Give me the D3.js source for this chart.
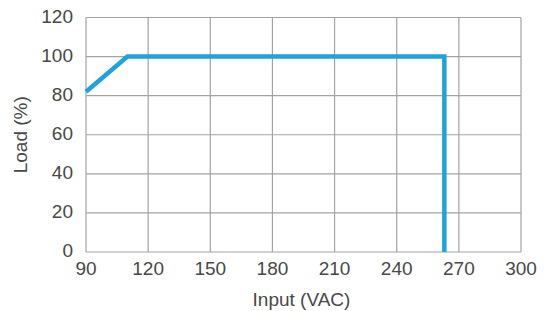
<!DOCTYPE html>
<html>
<head>
<meta charset="utf-8">
<script src="https://cdn.jsdelivr.net/npm/d3@7"></script>
<style>
  body { margin: 0; background: #fff; }
  svg text { font-family: "Liberation Sans", Arial, sans-serif; fill: #484848; }
</style>
</head>
<body>
<svg id="chart" width="550" height="311"></svg>
<script>
const inputVac = [90, 110, 263, 263];
const loadPct = [82, 100, 100, 0];
const xTicks = [90, 120, 150, 180, 210, 240, 270, 300];
const yTicks = [0, 20, 40, 60, 80, 100, 120];

const svg = d3.select("#chart");
const margin = { left: 86, right: 29, top: 17.5, bottom: 59 };
const width = 550 - margin.left - margin.right;
const height = 311 - margin.top - margin.bottom;

const x = d3.scaleLinear().domain([90, 300]).range([0, width]);
const y = d3.scaleLinear().domain([0, 120]).range([height, 0]);

const g = svg.append("g").attr("transform", `translate(${margin.left},${margin.top})`);

// grid
g.selectAll(".vgrid")
  .data(xTicks)
  .enter()
  .append("line")
  .attr("x1", (d) => x(d))
  .attr("x2", (d) => x(d))
  .attr("y1", 0)
  .attr("y2", height)
  .attr("stroke", "#a3a3a3")
  .attr("stroke-width", 1.2);

g.selectAll(".hgrid")
  .data(yTicks)
  .enter()
  .append("line")
  .attr("x1", 0)
  .attr("x2", width)
  .attr("y1", (d) => y(d))
  .attr("y2", (d) => y(d))
  .attr("stroke", "#a3a3a3")
  .attr("stroke-width", 1.2);

// tick labels
g.selectAll(".xlab")
  .data(xTicks)
  .enter()
  .append("text")
  .attr("x", (d) => x(d))
  .attr("y", height + 23)
  .attr("text-anchor", "middle")
  .style("font-size", "19px")
  .text((d) => d);

g.selectAll(".ylab")
  .data(yTicks)
  .enter()
  .append("text")
  .attr("x", -13)
  .attr("y", (d) => y(d) + 5)
  .attr("text-anchor", "end")
  .style("font-size", "19px")
  .text((d) => d);

// derating line
const line = d3.line().x((d, i) => x(inputVac[i])).y((d, i) => y(loadPct[i]));
g.append("path")
  .datum(inputVac)
  .attr("d", line)
  .attr("fill", "none")
  .attr("stroke", "#1fa3dd")
  .attr("stroke-width", 4.5);

// axis titles
svg.append("text")
  .attr("x", margin.left + width / 2 - 2)
  .attr("y", 306)
  .attr("text-anchor", "middle")
  .style("font-size", "19px")
  .text("Input (VAC)");

svg.append("text")
  .attr("transform", `translate(27,${margin.top + height / 2}) rotate(-90)`)
  .attr("text-anchor", "middle")
  .style("font-size", "19px")
  .text("Load (%)");
</script>
</body>
</html>
